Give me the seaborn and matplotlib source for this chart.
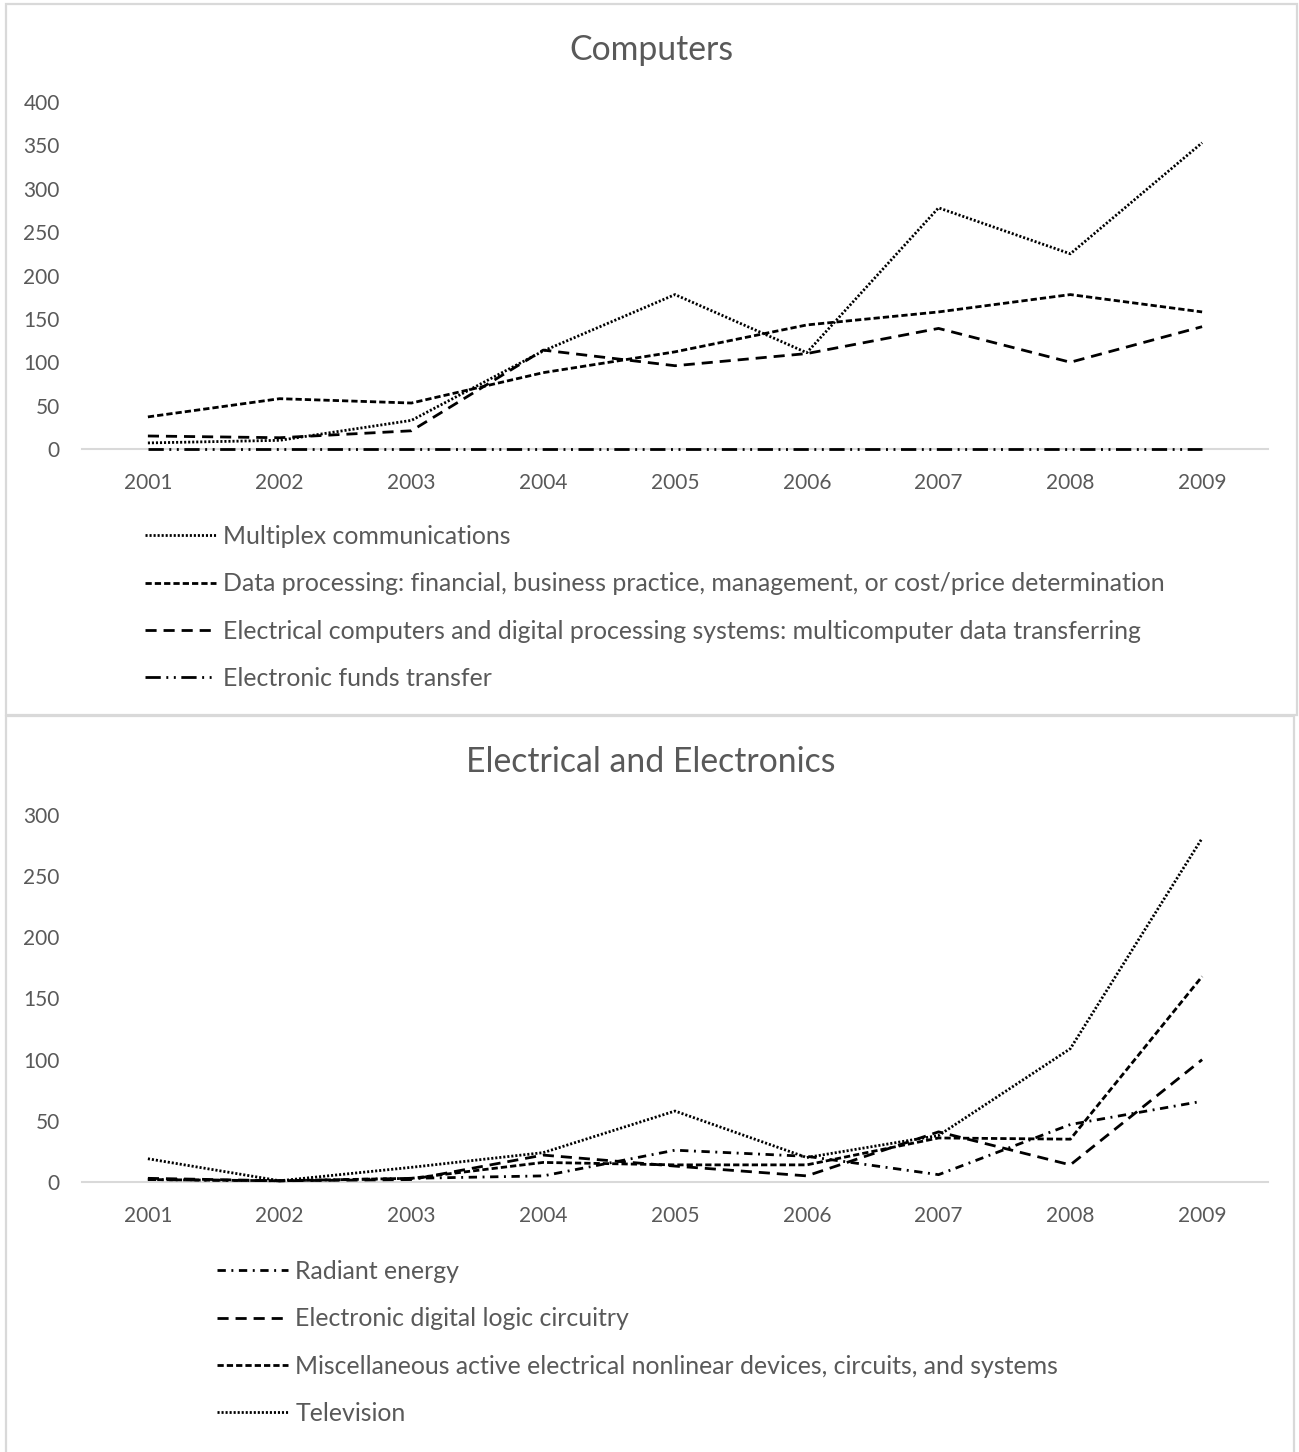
"""Patent counts by subclass, 2001-2009: Computers and Electrical/Electronics panels."""

import matplotlib.pyplot as plt
import pandas as pd
import seaborn as sns
from matplotlib.patches import Rectangle

years = ["2001", "2002", "2003", "2004", "2005", "2006", "2007", "2008", "2009"]

# Computers panel
multiplex = [7, 10, 33, 113, 178, 111, 278, 225, 353]
data_processing = [37, 58, 53, 88, 112, 143, 158, 178, 158]
electrical_computers = [15, 13, 21, 114, 96, 110, 139, 100, 141]
funds_transfer = [0, 0, 0, 0, 0, 0, 0, 0, 0]

# Electrical and Electronics panel
radiant_energy = [2, 1, 3, 5, 26, 21, 6, 47, 66]
digital_logic = [3, 1, 2, 22, 13, 5, 41, 14, 100]
misc_nonlinear = [2, 1, 3, 16, 14, 14, 36, 35, 168]
television = [19, 1, 12, 24, 58, 20, 38, 109, 281]

top_labels = [
    "Multiplex communications",
    "Data processing: financial, business practice, management, or cost/price determination",
    "Electrical computers and digital processing systems: multicomputer data transferring",
    "Electronic funds transfer",
]
bottom_labels = [
    "Radiant energy",
    "Electronic digital logic circuitry",
    "Miscellaneous active electrical nonlinear devices, circuits, and systems",
    "Television",
]

DOT = (0, (1.5, 1.4))
SHORT = (0, (4.5, 2.2))
LONG = (0, (8, 5))
LDD = (0, (11, 4, 1.4, 4, 1.4, 4))
DASHDOT = (0, (6, 4, 1.4, 4))

GREY = "#595959"
BORDER = "#d9d9d9"

sns.set_style("white")
plt.rcParams["font.family"] = ["Lato", "DejaVu Sans"]
plt.rcParams["lines.scale_dashes"] = False

W, H = 1299, 1452


def draw_panel(ax, series, labels, styles, ymax):
    for vals, lab, ls in zip(series, labels, styles):
        df = pd.DataFrame({"year": years, "value": vals})
        sns.lineplot(data=df, x="year", y="value", ax=ax, color="black",
                     linewidth=2.0, linestyle=ls, label=lab, legend=False,
                     zorder=3, clip_on=False)
    ax.set_xlim(-0.5, len(years) - 0.5)
    ax.set_ylim(0, ymax)
    ax.set_yticks(range(0, ymax + 1, 50))
    ax.set_xlabel("")
    ax.set_ylabel("")
    for side in ["top", "right", "left"]:
        ax.spines[side].set_visible(False)
    ax.spines["bottom"].set_color(BORDER)
    ax.spines["bottom"].set_linewidth(1.5)
    ax.spines["bottom"].set_zorder(1)
    ax.tick_params(axis="both", length=0, labelsize=15, labelcolor=GREY)
    ax.tick_params(axis="x", pad=17)
    ax.tick_params(axis="y", pad=16)


fig = plt.figure(figsize=(W / 100, H / 100), dpi=100)

# panel borders
fig.patches.append(Rectangle((6 / W, 1 - 715 / H), 1291 / W, 711 / H,
                             transform=fig.transFigure, fill=False,
                             edgecolor=BORDER, linewidth=1.6))
fig.patches.append(Rectangle((6 / W, -0.01), 1288 / W, 1 - 716 / H + 0.01,
                             transform=fig.transFigure, fill=False,
                             edgecolor=BORDER, linewidth=1.6))

ax1 = fig.add_axes([82 / W, 1 - 449 / H, 1186 / W, 347 / H])
draw_panel(ax1, [multiplex, data_processing, electrical_computers, funds_transfer],
           top_labels, [DOT, SHORT, LONG, LDD], 400)

ax2 = fig.add_axes([82 / W, 1 - 1182 / H, 1186 / W, 367 / H])
draw_panel(ax2, [radiant_energy, digital_logic, misc_nonlinear, television],
           bottom_labels, [DASHDOT, LONG, SHORT, DOT], 300)

fig.text(651 / W, 1 - 50 / H, "Computers", fontsize=24.3, color=GREY,
         ha="center", va="center")
fig.text(651 / W, 1 - 762 / H, "Electrical and Electronics", fontsize=24.3,
         color=GREY, ha="center", va="center")

leg_kw = dict(frameon=False, loc="upper left", fontsize=17.9, labelcolor=GREY,
              handlelength=2.85, handletextpad=0.3, labelspacing=0.98,
              borderpad=0, borderaxespad=0)
h1, l1 = ax1.get_legend_handles_labels()
fig.legend(h1, l1, bbox_to_anchor=(145 / W, 1 - 525 / H), **leg_kw)
h2, l2 = ax2.get_legend_handles_labels()
fig.legend(h2, l2, bbox_to_anchor=(217 / W, 1 - 1260 / H), **leg_kw)

fig.savefig("out.png", dpi=100)
